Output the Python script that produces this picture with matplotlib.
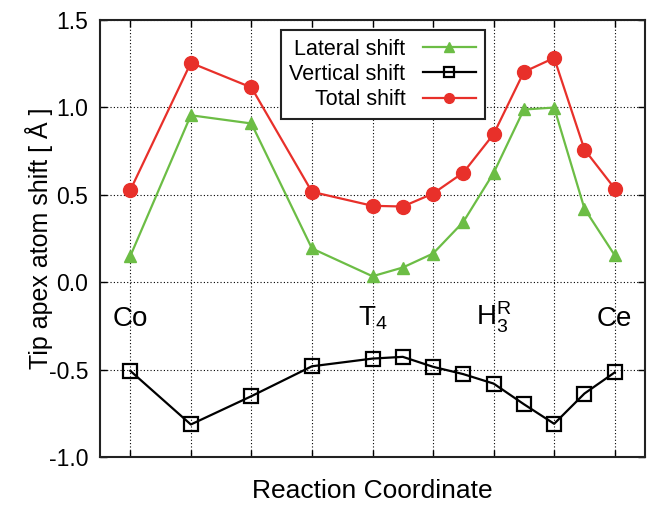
import matplotlib
matplotlib.use("Agg")
import matplotlib.pyplot as plt

plt.rcParams['font.family'] = ['Liberation Sans', 'DejaVu Sans']
plt.rcParams['mathtext.fontset'] = 'custom'
plt.rcParams['mathtext.rm'] = 'Liberation Sans'
plt.rcParams['mathtext.it'] = 'Liberation Sans'

x = [0, 1, 2, 3, 4, 4.5, 5, 5.5, 6, 6.5, 7, 7.5, 8]
lateral = [0.149, 0.955, 0.908, 0.193, 0.034, 0.084, 0.164, 0.345, 0.625, 0.988, 0.999, 0.421, 0.154]
vertical = [-0.507, -0.814, -0.652, -0.481, -0.437, -0.427, -0.484, -0.526, -0.580, -0.698, -0.810, -0.637, -0.516]
total = [0.526, 1.255, 1.114, 0.517, 0.437, 0.433, 0.507, 0.627, 0.847, 1.203, 1.283, 0.759, 0.536]

site_x = [0, 4, 6, 8]
site_labels = ['Co', 'T$_4$', 'H$_3^\\mathrm{R}$', 'Ce']
site_y = -0.25

fig = plt.figure(figsize=(6.47, 5.07), dpi=100)
ax = fig.add_axes([100/647, 1-457/507, 545/647, 437/507])

green = '#6cbd45'
red = '#e8302a'

ax.plot(x, lateral, color=green, lw=1.6, marker='^', ms=9, label='Lateral shift', zorder=3)
ax.plot(x, vertical, color='black', lw=1.6, marker='s', ms=10, mfc='none', mec='black', mew=1.6,
        label='Vertical shift', zorder=3)
ax.plot(x, total, color=red, lw=1.6, marker='o', ms=10, label='Total shift', zorder=3)

for sx, sl in zip(site_x, site_labels):
    ax.text(sx, site_y, sl, ha='center', va='baseline', fontsize=20)

ax.set_xlim(-0.5, 8.5)
ax.set_ylim(-1.0, 1.5)
ax.set_xticks(range(0, 9))
ax.set_xticklabels([])
ax.set_yticks([-1.0, -0.5, 0.0, 0.5, 1.0, 1.5])
ax.set_yticklabels(['-1.0', '-0.5', '0.0', '0.5', '1.0', '1.5'])
ax.tick_params(direction='in', top=True, right=True, length=5, width=1, labelsize=16.5, pad=8.5)
ax.grid(True, linestyle=(0, (1, 2)), color='black', lw=0.8)
for s in ax.spines.values():
    s.set_linewidth(1.5)
    s.set_color('#222222')

ax.set_xlabel('Reaction Coordinate', fontsize=19, labelpad=7)
ax.set_ylabel('Tip apex atom shift [ Å ]', fontsize=18)
ax.yaxis.set_label_coords(-0.086, 0.5)

leg = ax.legend(loc='upper center', bbox_to_anchor=(0.519, 0.977), borderaxespad=0,
                markerfirst=False, fontsize=15.5,
                frameon=True, fancybox=False, edgecolor='#222222', framealpha=1,
                handlelength=2.5, labelspacing=0.2, borderpad=0.4, handletextpad=0.8)
leg.get_frame().set_linewidth(1.5)
for h in leg.legend_handles:
    h.set_markersize(7)

fig.savefig('out.png', dpi=100)
